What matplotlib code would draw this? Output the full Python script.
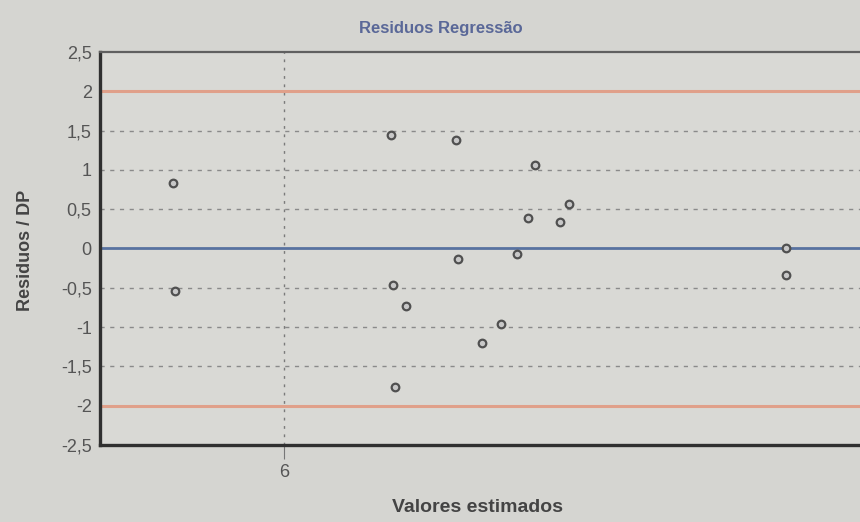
import matplotlib
matplotlib.use("Agg")
import matplotlib.pyplot as plt
from matplotlib.ticker import FuncFormatter

# Data
x_est = [5.807, 5.810, 6.185, 6.189, 6.192, 6.211, 6.298, 6.302, 6.343,
         6.376, 6.404, 6.423, 6.435, 6.479, 6.494, 6.871, 6.871]
resid = [0.83, -0.54, 1.45, -0.46, -1.76, -0.73, 1.38, -0.13, -1.20,
         -0.96, -0.07, 0.39, 1.06, 0.34, 0.57, 0.01, -0.34]
y_ticks = [2.5, 2, 1.5, 1, 0.5, 0, -0.5, -1, -1.5, -2, -2.5]
x_ticks = [6]
grid_levels = [1.5, 1, 0.5, -0.5, -1, -1.5]
limit_levels = [2, -2]

plt.rcParams['font.family'] = ['Liberation Sans', 'DejaVu Sans']

fig = plt.figure(figsize=(8.6, 5.22), dpi=100, facecolor='#d5d5d1')
ax = fig.add_axes([0.1163, 0.1475, 0.8837, 0.7529])
ax.set_facecolor('#d9d9d5')

ax.set_xlim(5.68, 7.0)
ax.set_ylim(-2.5, 2.5)

for g in grid_levels:
    ax.axhline(g, color='#8a8a8a', lw=1.0, ls=(0, (3, 4)), zorder=1)
ax.axvline(6, color='#7a7a7a', lw=1.0, ls=(0, (2, 4)), zorder=1)
for lv in limit_levels:
    ax.axhline(lv, color='#e0a08a', lw=2.2, zorder=2)
ax.axhline(0, color='#5872a0', lw=2.0, zorder=2)

ax.scatter(x_est, resid, s=30, facecolors='#c8c8c8', edgecolors='#505050',
           linewidths=1.6, zorder=3)

ax.set_yticks(y_ticks)
ax.set_xticks(x_ticks)
ax.yaxis.set_major_formatter(FuncFormatter(lambda v, p: ('%g' % v).replace('.', ',')))
ax.tick_params(axis='y', length=0, pad=6, labelsize=13, labelcolor='#555555')
ax.tick_params(axis='x', length=10, color='#777777', pad=4, labelsize=13, labelcolor='#555555')

for s in ['left', 'bottom']:
    ax.spines[s].set_color('#303030')
    ax.spines[s].set_linewidth(2.4)
ax.spines['top'].set_color('#606060')
ax.spines['top'].set_linewidth(1.6)
ax.spines['right'].set_visible(False)

fig.text(0.512, 0.945, 'Residuos Regressão', ha='center', va='center',
         fontsize=12, fontweight='bold', color='#5a6898')
fig.text(0.555, 0.028, 'Valores estimados', ha='center', va='center',
         fontsize=14, fontweight='bold', color='#444444')
fig.text(0.03, 0.52, 'Residuos / DP', ha='center', va='center', rotation=90,
         fontsize=13, fontweight='bold', color='#444444')

fig.savefig('out.png', dpi=100, facecolor=fig.get_facecolor())
